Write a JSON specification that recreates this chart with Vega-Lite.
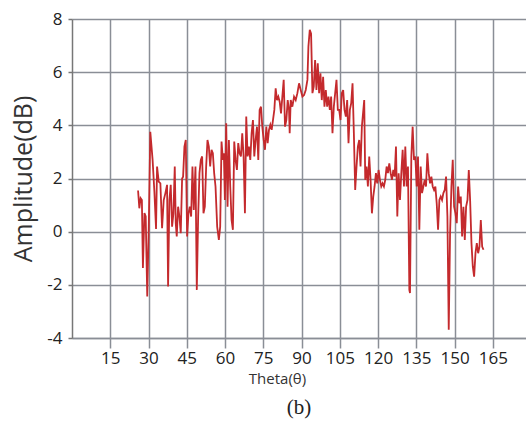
{
  "$schema": "https://vega.github.io/schema/vega-lite/v6.json",
  "width": 454,
  "height": 319,
  "autosize": {"type": "none"},
  "padding": {"left": 72, "top": 19, "right": 0, "bottom": 87},
  "background": "white",
  "title": {"text": "(b)", "orient": "bottom", "font": "Liberation Serif", "fontSize": 21, "fontWeight": "normal", "color": "#222", "anchor": "middle", "offset": 11},
  "config": {"view": {"stroke": null}},
  "data": {"values": [
    {"t":25.9,"a":1.55},{"t":26.4,"a":0.88},{"t":26.9,"a":1.26},{"t":27.4,"a":1.19},{"t":27.8,"a":-1.37},{"t":28.4,"a":0.7},{"t":28.9,"a":0.57},{"t":29.5,"a":-2.44},{"t":30.1,"a":0.2},{"t":30.7,"a":3.76},{"t":31.6,"a":2.7},{"t":32.3,"a":1.5},{"t":32.95,"a":0.1},{"t":33.35,"a":2.45},{"t":34.0,"a":1.88},{"t":34.65,"a":1.82},{"t":35.31,"a":0.13},{"t":35.96,"a":1.19},{"t":36.62,"a":1.45},{"t":37.27,"a":1.76},{"t":37.67,"a":-2.06},{"t":38.19,"a":1.19},{"t":38.71,"a":1.76},{"t":39.24,"a":0.19},{"t":39.76,"a":0.69},{"t":40.29,"a":2.45},{"t":40.68,"a":0.32},{"t":41.07,"a":-0.18},{"t":41.6,"a":0.94},{"t":42.12,"a":0.57},{"t":42.64,"a":-0.06},{"t":43.17,"a":2.0},{"t":43.56,"a":2.07},{"t":44.08,"a":3.2},{"t":44.61,"a":3.45},{"t":45.13,"a":-0.18},{"t":45.66,"a":0.69},{"t":46.18,"a":0.94},{"t":46.71,"a":0.57},{"t":47.23,"a":2.45},{"t":47.75,"a":0.82},{"t":48.41,"a":2.45},{"t":48.93,"a":-2.19},{"t":49.46,"a":0.57},{"t":49.98,"a":2.2},{"t":50.5,"a":2.7},{"t":51.03,"a":2.83},{"t":51.55,"a":0.69},{"t":52.08,"a":0.94},{"t":52.6,"a":2.45},{"t":53.12,"a":3.45},{"t":53.65,"a":3.2},{"t":54.17,"a":2.45},{"t":54.7,"a":3.08},{"t":55.22,"a":2.95},{"t":55.74,"a":2.2},{"t":56.27,"a":1.7},{"t":56.92,"a":0.19},{"t":57.58,"a":-0.31},{"t":58.1,"a":0.19},{"t":58.63,"a":3.39},{"t":59.15,"a":2.7},{"t":59.54,"a":2.95},{"t":59.94,"a":1.19},{"t":60.46,"a":4.08},{"t":60.99,"a":0.94},{"t":61.51,"a":3.45},{"t":62.04,"a":1.7},{"t":62.56,"a":0.44},{"t":63.08,"a":0.07},{"t":63.61,"a":3.39},{"t":64.13,"a":2.7},{"t":64.66,"a":2.32},{"t":65.18,"a":3.33},{"t":65.7,"a":2.95},{"t":66.23,"a":2.83},{"t":66.75,"a":3.7},{"t":67.28,"a":2.83},{"t":67.8,"a":0.69},{"t":68.32,"a":4.33},{"t":68.85,"a":2.83},{"t":69.37,"a":3.2},{"t":69.9,"a":2.7},{"t":70.42,"a":3.7},{"t":70.94,"a":4.2},{"t":71.47,"a":2.83},{"t":71.99,"a":3.45},{"t":72.52,"a":3.95},{"t":73.04,"a":2.7},{"t":73.56,"a":4.58},{"t":74.09,"a":4.7},{"t":74.61,"a":3.95},{"t":75.14,"a":3.45},{"t":75.66,"a":3.08},{"t":76.18,"a":3.95},{"t":76.71,"a":3.33},{"t":77.23,"a":3.83},{"t":77.76,"a":4.02},{"t":78.28,"a":3.83},{"t":78.8,"a":4.2},{"t":79.33,"a":4.58},{"t":79.85,"a":5.39},{"t":80.38,"a":4.95},{"t":80.9,"a":5.08},{"t":81.42,"a":4.89},{"t":81.95,"a":4.45},{"t":82.47,"a":5.08},{"t":83.0,"a":5.71},{"t":83.52,"a":3.95},{"t":84.04,"a":4.2},{"t":84.57,"a":4.95},{"t":85.09,"a":4.58},{"t":85.35,"a":3.7},{"t":85.75,"a":4.95},{"t":86.4,"a":4.7},{"t":87.06,"a":5.08},{"t":87.71,"a":4.95},{"t":88.37,"a":5.21},{"t":89.02,"a":5.58},{"t":89.68,"a":5.33},{"t":90.33,"a":5.08},{"t":90.99,"a":5.14},{"t":91.64,"a":5.33},{"t":92.3,"a":5.71},{"t":92.69,"a":6.96},{"t":93.22,"a":7.59},{"t":93.74,"a":7.45},{"t":94.27,"a":5.21},{"t":94.79,"a":5.46},{"t":95.31,"a":6.46},{"t":95.84,"a":5.33},{"t":96.36,"a":6.33},{"t":96.89,"a":5.21},{"t":97.41,"a":5.96},{"t":97.93,"a":4.95},{"t":98.46,"a":5.83},{"t":98.98,"a":4.7},{"t":99.51,"a":5.33},{"t":100.03,"a":4.7},{"t":100.55,"a":5.08},{"t":101.08,"a":4.58},{"t":101.6,"a":5.08},{"t":102.13,"a":3.7},{"t":102.65,"a":4.7},{"t":103.18,"a":5.21},{"t":103.7,"a":5.71},{"t":104.22,"a":4.58},{"t":104.75,"a":4.58},{"t":105.27,"a":4.2},{"t":105.79,"a":5.21},{"t":106.32,"a":5.33},{"t":106.84,"a":4.58},{"t":107.37,"a":4.33},{"t":107.89,"a":4.95},{"t":108.41,"a":3.33},{"t":108.94,"a":4.58},{"t":109.46,"a":4.83},{"t":109.99,"a":5.58},{"t":110.51,"a":3.7},{"t":111.03,"a":1.57},{"t":111.56,"a":2.45},{"t":112.08,"a":3.2},{"t":112.61,"a":3.45},{"t":113.13,"a":2.45},{"t":113.65,"a":3.95},{"t":114.57,"a":4.95},{"t":114.97,"a":1.95},{"t":115.49,"a":2.45},{"t":116.01,"a":1.7},{"t":116.54,"a":2.83},{"t":117.06,"a":1.95},{"t":117.59,"a":0.69},{"t":118.11,"a":1.32},{"t":118.63,"a":1.7},{"t":119.16,"a":2.2},{"t":119.68,"a":1.82},{"t":120.21,"a":2.32},{"t":120.73,"a":1.95},{"t":121.25,"a":1.7},{"t":121.78,"a":1.82},{"t":122.3,"a":1.7},{"t":122.82,"a":1.95},{"t":123.35,"a":2.45},{"t":123.87,"a":2.2},{"t":124.4,"a":2.57},{"t":124.92,"a":2.2},{"t":125.44,"a":1.95},{"t":125.97,"a":2.32},{"t":126.49,"a":2.07},{"t":127.02,"a":3.2},{"t":127.54,"a":0.57},{"t":128.06,"a":2.2},{"t":128.59,"a":1.19},{"t":129.11,"a":2.2},{"t":129.64,"a":3.08},{"t":130.16,"a":1.7},{"t":130.68,"a":3.2},{"t":131.21,"a":1.7},{"t":131.73,"a":2.45},{"t":132.26,"a":-2.19},{"t":132.52,"a":-2.31},{"t":133.04,"a":2.83},{"t":133.56,"a":3.95},{"t":134.09,"a":2.7},{"t":134.61,"a":2.83},{"t":135.14,"a":1.7},{"t":135.66,"a":2.83},{"t":136.18,"a":0.07},{"t":136.71,"a":2.45},{"t":137.23,"a":1.45},{"t":137.76,"a":1.7},{"t":138.28,"a":1.95},{"t":138.8,"a":1.7},{"t":139.33,"a":2.95},{"t":139.85,"a":2.2},{"t":140.38,"a":1.82},{"t":140.9,"a":2.07},{"t":141.42,"a":1.7},{"t":141.95,"a":1.57},{"t":142.47,"a":1.7},{"t":142.99,"a":1.07},{"t":143.52,"a":0.07},{"t":144.04,"a":1.19},{"t":144.57,"a":1.32},{"t":145.09,"a":1.19},{"t":145.61,"a":1.45},{"t":146.14,"a":1.57},{"t":146.66,"a":2.07},{"t":147.19,"a":0.57},{"t":147.71,"a":-3.69},{"t":148.23,"a":-0.06},{"t":148.76,"a":1.7},{"t":149.28,"a":2.7},{"t":149.81,"a":0.94},{"t":150.33,"a":0.69},{"t":150.85,"a":0.32},{"t":151.38,"a":1.7},{"t":151.9,"a":1.07},{"t":152.43,"a":1.32},{"t":152.95,"a":-0.18},{"t":153.47,"a":0.94},{"t":154.0,"a":-0.31},{"t":154.52,"a":0.94},{"t":155.05,"a":1.19},{"t":155.57,"a":2.32},{"t":156.09,"a":1.19},{"t":156.62,"a":-0.43},{"t":157.14,"a":-1.31},{"t":157.66,"a":-1.69},{"t":158.19,"a":-0.81},{"t":158.71,"a":-0.43},{"t":159.24,"a":-0.81},{"t":159.76,"a":-0.56},{"t":160.28,"a":0.44},{"t":160.81,"a":-0.56},{"t":161.33,"a":-0.68}
  ]},
  "mark": {"type": "line", "color": "#c42a2d", "strokeWidth": 1.8, "clip": true},
  "encoding": {
    "x": {
      "field": "t", "type": "quantitative",
      "scale": {"domain": [0, 178], "nice": false, "zero": false},
      "axis": {
        "values": [15, 30, 45, 60, 75, 90, 105, 120, 135, 150, 165],
        "title": "Theta(θ)",
        "titleFont": "Open Sans", "titleFontSize": 15, "titleFontWeight": "normal", "titleColor": "#333",
        "titleX": 205, "titlePadding": 5,
        "labelFont": "Open Sans", "labelFontSize": 17, "labelColor": "#222", "labelPadding": 2,
        "tickSize": 10, "tickColor": "#8a8e96", "tickWidth": 1.5,
        "grid": true, "gridColor": "#8a8e96", "gridWidth": 1.5,
        "domainColor": "#8a8e96", "domainWidth": 1.5
      }
    },
    "y": {
      "field": "a", "type": "quantitative",
      "scale": {"domain": [-4, 8], "nice": false, "zero": false},
      "axis": {
        "values": [-4, -2, 0, 2, 4, 6, 8],
        "labelExpr": "replace(datum.label, '−', '-')",
        "title": "Amplitude(dB)",
        "titleFont": "Open Sans", "titleFontSize": 25, "titleFontWeight": "normal", "titleColor": "#333",
        "titlePadding": 10,
        "labelFont": "Open Sans", "labelFontSize": 17, "labelColor": "#222", "labelPadding": 6,
        "tickSize": 4, "tickColor": "#777", "tickWidth": 1.5,
        "grid": true, "gridColor": "#8a8e96", "gridWidth": 1.5,
        "domainColor": "#777", "domainWidth": 1.5
      }
    }
  }
}
